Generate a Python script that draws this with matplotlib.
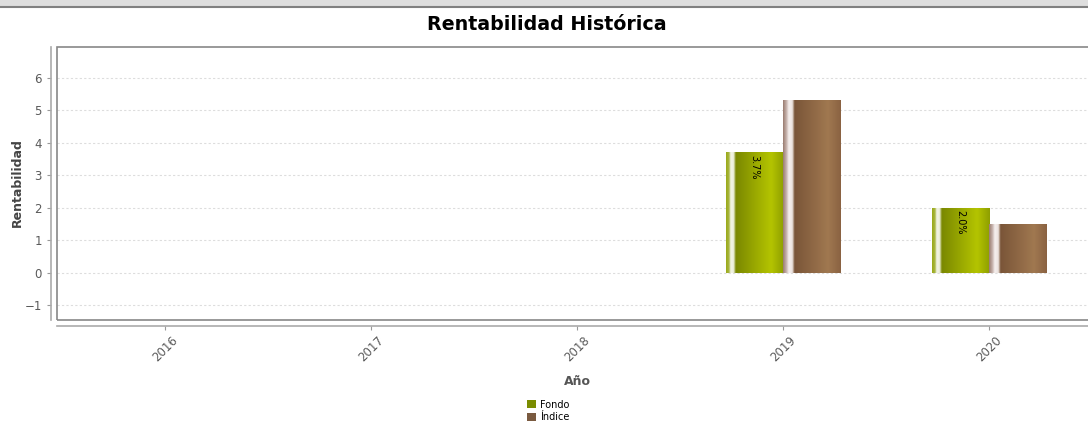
import numpy as np
import matplotlib.pyplot as plt
from matplotlib.colors import LinearSegmentedColormap
from matplotlib.patches import Rectangle
from matplotlib.lines import Line2D

# Data
years = ["2016", "2017", "2018", "2019", "2020"]
fondo = [np.nan, np.nan, np.nan, 3.7, 2.0]
indice = [np.nan, np.nan, np.nan, 5.3, 1.5]
fondo_labels = ["", "", "", "3.7%", "2.0%"]

# Gradient colour maps (imitating the glossy bar painter)
cmap_fondo = LinearSegmentedColormap.from_list("fondo", [
    (0.00, "#9aaa18"), (0.05, "#a8b640"), (0.08, "#f2f4e4"), (0.13, "#eef0dc"),
    (0.17, "#7a8800"), (0.78, "#b4c400"), (1.00, "#8e9e00")])
cmap_indice = LinearSegmentedColormap.from_list("indice", [
    (0.00, "#9a7c70"), (0.06, "#c8b4ae"), (0.10, "#f6f0ef"), (0.16, "#ece2de"),
    (0.20, "#7a5538"), (0.78, "#a07850"), (1.00, "#8a6242")])

W, H = 1088, 424
fig = plt.figure(figsize=(W / 100, H / 100), dpi=100)

# window chrome strip at top
fig.patches.append(Rectangle((0, 1 - 6 / H), 1, 6 / H, transform=fig.transFigure,
                             facecolor="#dedede", edgecolor="none"))
fig.lines.append(Line2D([0, 1], [1 - 6.5 / H, 1 - 6.5 / H], transform=fig.transFigure,
                        color="#808080", lw=1.5))

left_px, right_px, top_px, bot_px = 57, 1097, 47, 320
ax = fig.add_axes([left_px / W, 1 - bot_px / H, (right_px - left_px) / W, (bot_px - top_px) / H])

# axis lines offset from the plot box (do this before tick setup, it resets ticks)
for s in ["top", "right"]:
    ax.spines[s].set_visible(False)
for s in ["left", "bottom"]:
    ax.spines[s].set_position(("outward", 4))
    ax.spines[s].set_color("#aaaaaa")
    ax.spines[s].set_linewidth(1.2)

bw = 0.277
x = np.arange(len(years))
grad = np.linspace(0, 1, 256).reshape(1, -1)
for i in x:
    for val, cm, off in [(fondo[i], cmap_fondo, -bw), (indice[i], cmap_indice, 0)]:
        if np.isnan(val):
            continue
        x0 = i + off
        ax.imshow(grad, cmap=cm, aspect="auto", extent=[x0, x0 + bw, 0, val],
                  interpolation="bilinear", zorder=3)
    if fondo_labels[i]:
        ax.text(i - bw / 2, fondo[i] - 0.08, fondo_labels[i], rotation=-90,
                ha="center", va="top", fontsize=7, color="black", zorder=4)

ax.set_xlim(-0.524, 4.524)
ax.set_ylim(-1.45, 6.95)
ax.set_xticks(x)
ax.set_xticklabels(years, rotation=45, ha="center", fontsize=8.5, color="#5a5a5a")
ax.set_yticks(range(-1, 7))
ax.tick_params(axis="y", labelsize=8.5, labelcolor="#5a5a5a", length=3, color="#999999", pad=4)
ax.tick_params(axis="x", length=3, color="#999999", pad=3)
ax.grid(axis="y", color="#dddddd", linestyle=(0, (2, 2)), linewidth=0.8, zorder=0)

ax.add_patch(Rectangle((0, 0), 1, 1, transform=ax.transAxes, fill=False,
                       edgecolor="#888888", linewidth=1.2, clip_on=False, zorder=5))

fig.text(17 / W, 1 - 183 / H, "Rentabilidad", rotation=90, ha="center", va="center",
         fontsize=9, fontweight="bold", color="#444444")
ax.set_xlabel("Año", fontsize=9, fontweight="bold", color="#555555", labelpad=8)
fig.text(547 / W, 1 - 25 / H, "Rentabilidad Histórica", ha="center", va="center",
         fontsize=13.7, fontweight="bold", color="black")

# legend
handles = [Rectangle((0, 0), 1, 1, facecolor="#7a8c00"),
           Rectangle((0, 0), 1, 1, facecolor="#7a5a40")]
fig.legend(handles, ["Fondo", "Índice"], loc="center left", bbox_to_anchor=(522 / W, 1 - 411 / H),
           frameon=False, fontsize=7, handlelength=0.9, handleheight=0.9, handletextpad=0.5,
           labelspacing=0.25, borderpad=0)

fig.savefig("out.png", dpi=100)
